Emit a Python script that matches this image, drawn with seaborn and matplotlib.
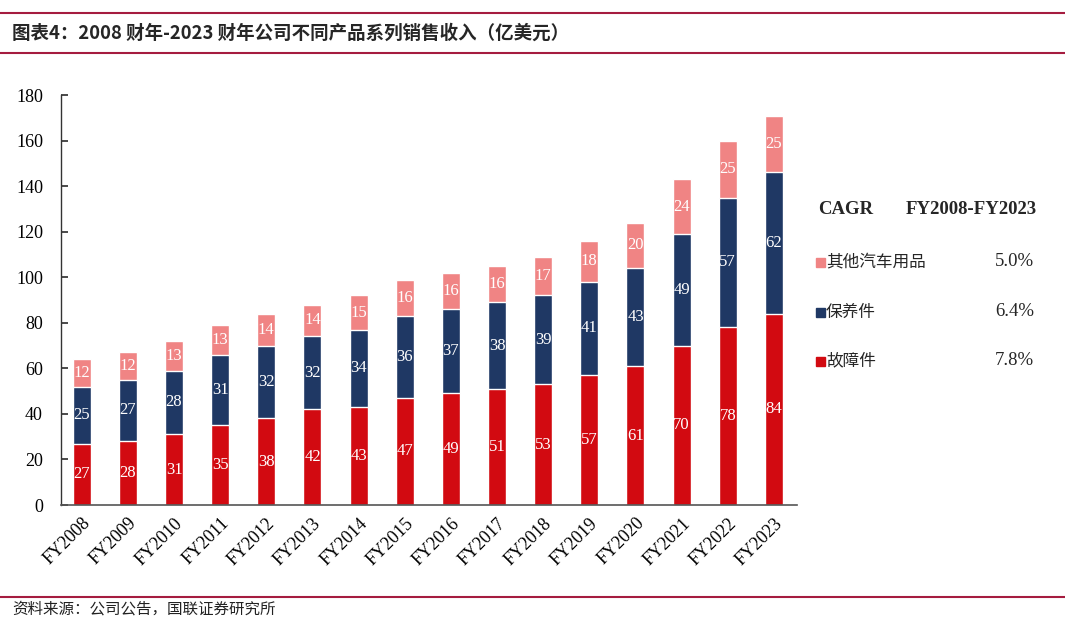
import matplotlib
matplotlib.use("Agg")
import matplotlib.pyplot as plt
import seaborn as sns
import pandas as pd
import numpy as np

years = ["FY2008","FY2009","FY2010","FY2011","FY2012","FY2013","FY2014","FY2015",
         "FY2016","FY2017","FY2018","FY2019","FY2020","FY2021","FY2022","FY2023"]
failure = [27, 28, 31, 35, 38, 42, 43, 47, 49, 51, 53, 57, 61, 70, 78, 84]
maintenance = [25, 27, 28, 31, 32, 32, 34, 36, 37, 38, 39, 41, 43, 49, 57, 62]
other = [12, 12, 13, 13, 14, 14, 15, 16, 16, 16, 17, 18, 20, 24, 25, 25]
series_names = ["其他汽车用品", "保养件", "故障件"]
cagr = ["5.0%", "6.4%", "7.8%"]
yticks = [0, 20, 40, 60, 80, 100, 120, 140, 160, 180]

c_fail = "#D20A11"
c_main = "#1F3864"
c_other = "#F08484"
line_c = "#A51C3F"

sns.set_theme(style="white")
serif = ["Liberation Serif", "Noto Sans CJK SC"]
cjk = ["Noto Sans CJK SC", "DejaVu Sans"]
plt.rcParams["font.family"] = serif

df = pd.DataFrame({"year": years, "failure": failure, "maintenance": maintenance, "other": other})
df["fm"] = df["failure"] + df["maintenance"]
df["total"] = df["fm"] + df["other"]

fig = plt.figure(figsize=(10.65, 6.31), dpi=100)
ax = fig.add_axes([61/1065, 1 - 505/631, (797-61)/1065, 410/631])

bw = 0.39
sns.barplot(data=df, x="year", y="total", color=c_other, width=bw, ax=ax, saturation=1)
sns.barplot(data=df, x="year", y="fm", color=c_main, width=bw, ax=ax, saturation=1)
sns.barplot(data=df, x="year", y="failure", color=c_fail, width=bw, ax=ax, saturation=1)

for i in range(len(years)):
    ax.text(i, failure[i] / 2, str(failure[i]), ha="center", va="center", color="white", fontsize=12)
    ax.text(i, failure[i] + maintenance[i] / 2, str(maintenance[i]), ha="center", va="center", color="white", fontsize=12)
    ax.text(i, failure[i] + maintenance[i] + other[i] / 2, str(other[i]), ha="center", va="center", color="white", fontsize=12)

ax.set_ylim(0, 180)
ax.set_xlim(-0.45, 15.5)
ax.set_yticks(yticks)
ax.set_yticklabels([str(v) for v in yticks], fontsize=13)
ax.set_xticks(range(len(years)))
ax.set_xticklabels(years, rotation=45, ha="right", rotation_mode="anchor", fontsize=13)
ax.set_xlabel("")
ax.set_ylabel("")
for s in ["top", "right"]:
    ax.spines[s].set_visible(False)
ax.spines["left"].set_color("#333333")
ax.spines["bottom"].set_color("#555555")
ax.spines["left"].set_linewidth(1.0)
ax.spines["bottom"].set_linewidth(1.2)
ax.tick_params(axis="y", direction="in", length=5, left=True, pad=13, colors="#333333")
ax.tick_params(axis="x", length=0, pad=7, colors="#333333")
for lab in ax.get_yticklabels() + ax.get_xticklabels():
    lab.set_color("black")

# header lines
for yy in [13, 53, 597]:
    fig.add_artist(plt.Line2D([0, 1], [1 - yy/631, 1 - yy/631], color=line_c, lw=1.5))

fig.text(12/1065, 1 - 33/631, "图表4：2008 财年-2023 财年公司不同产品系列销售收入（亿美元）",
         fontsize=13.3, fontweight="bold", va="center", ha="left",
         family=["Noto Sans CJK SC", "DejaVu Sans"])
fig.text(12/1065, 1 - 609/631, "资料来源：公司公告，国联证券研究所", fontsize=11.2, va="center", ha="left",
         family=cjk, color="#222222")

# legend-like table
fig.text(818/1065, 1 - 210/631, "CAGR", fontsize=13.5, fontweight="bold", va="center", ha="left")
fig.text(1037/1065, 1 - 210/631, "FY2008-FY2023", fontsize=13.5, fontweight="bold", va="center", ha="right")
ys = [262, 312, 361]
cols = [c_other, c_main, c_fail]
for y, name, col, val in zip(ys, series_names, cols, cagr):
    fig.add_artist(plt.Rectangle((816/1065, 1 - (y + 5)/631), 9/1065, 9/631, color=col,
                                 transform=fig.transFigure))
    fig.text(826/1065, 1 - y/631, name, fontsize=12, va="center", ha="left", family=cjk)
    fig.text(1034/1065, 1 - y/631, val, fontsize=13.5, va="center", ha="right")

fig.savefig("out.png", dpi=100)
